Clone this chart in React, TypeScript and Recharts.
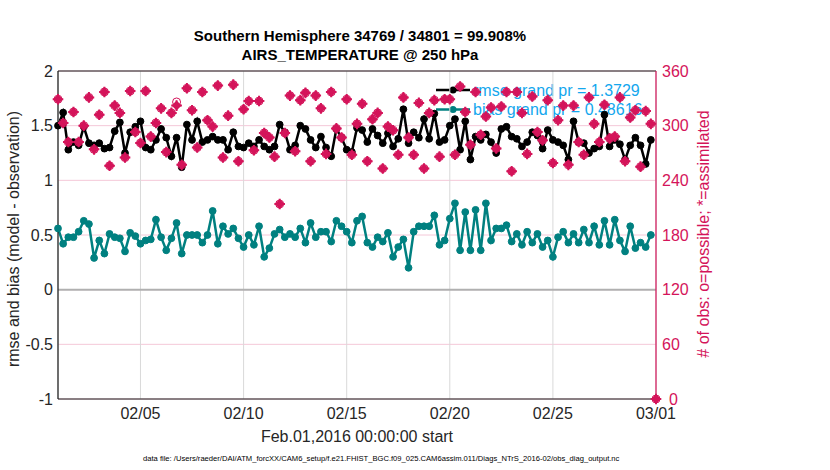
import React from 'react';
import { ComposedChart, Line, XAxis, YAxis, CartesianGrid, ReferenceLine } from 'recharts';

const W = 830;
const H = 470;
const FONT = '"Liberation Sans", Arial, Helvetica, sans-serif';
const CRIMSON = '#d4145a';
const TEAL = '#008080';
const LEGEND_BLUE = '#14a7ee';

// x axis: days since Feb.01,2016 00:00:00, one value every 6 hours
const STEP_DAYS = 0.25;
const dayTicks = [4, 9, 14, 19, 24, 29];
const dayTickLabels = ['02/05', '02/10', '02/15', '02/20', '02/25', '03/01'];
const leftTicks = [-1, -0.5, 0, 0.5, 1, 1.5, 2];
const rightTicks = [0, 60, 120, 180, 240, 300, 360];

const rmse = [
  1.50, 1.62, 1.28, 1.35, 1.32, 1.49, 1.34, 1.32, 1.34, 1.29,
  1.30, 1.45, 1.53, 1.25, 1.44, 1.49, 1.54, 1.30, 1.28, 1.37,
  1.47, 1.39, 1.22, 1.39, 1.12, 1.51, 1.37, 1.54, 1.35, 1.37,
  1.40, 1.37, 1.37, 1.28, 1.44, 1.31, 1.30, 1.34, 1.31, 1.37,
  1.31, 1.28, 1.31, 1.51, 1.44, 1.28, 1.32, 1.50, 1.47, 1.37,
  1.30, 1.40, 1.30, 1.22, 1.47, 1.39, 1.28, 1.26, 1.48, 1.46,
  1.35, 1.47, 1.41, 1.34, 1.43, 1.31, 1.38, 1.65, 1.34, 1.44,
  1.39, 1.56, 1.38, 1.61, 1.35, 1.37, 1.50, 1.56, 1.28, 1.54,
  1.19, 1.40, 1.37, 1.42, 1.35, 1.25, 1.47, 1.49, 1.40, 1.38,
  1.31, 1.35, 1.44, 1.41, 1.29, 1.46, 1.37, 1.35, 1.32, 1.19,
  1.54, 1.35, 1.34, 1.25, 1.29, 1.31, 1.60, 1.31, 1.37, 1.33,
  1.19, 1.32, 1.39, 1.32, 1.15, 1.37,
];

const bias = [
  0.56, 0.42, 0.48, 0.48, 0.53, 0.63, 0.60, 0.29, 0.45, 0.33,
  0.51, 0.48, 0.47, 0.35, 0.52, 0.49, 0.42, 0.45, 0.46, 0.64,
  0.48, 0.36, 0.47, 0.61, 0.33, 0.50, 0.50, 0.50, 0.43, 0.50,
  0.72, 0.42, 0.58, 0.51, 0.56, 0.47, 0.39, 0.50, 0.41, 0.58,
  0.30, 0.38, 0.51, 0.55, 0.48, 0.51, 0.48, 0.56, 0.43, 0.61,
  0.48, 0.53, 0.53, 0.44, 0.63, 0.58, 0.53, 0.43, 0.63, 0.67,
  0.43, 0.39, 0.48, 0.44, 0.52, 0.30, 0.39, 0.46, 0.20, 0.53,
  0.58, 0.58, 0.58, 0.68, 0.41, 0.45, 0.65, 0.79, 0.36, 0.71,
  0.36, 0.73, 0.36, 0.79, 0.45, 0.56, 0.56, 0.59, 0.44, 0.51,
  0.41, 0.53, 0.43, 0.51, 0.39, 0.45, 0.30, 0.48, 0.53, 0.43,
  0.51, 0.43, 0.55, 0.43, 0.58, 0.41, 0.63, 0.41, 0.64, 0.45,
  0.35, 0.58, 0.38, 0.43, 0.39, 0.50,
];

const nAssimilated = [
  329, 303, 282, 315, 282, 300, 331, 274, 312, 337,
  256, 322, 314, 265, 338, 293, 281, 338, 288, 303,
  319, 271, 314, 322, 257, 341, 317, 276, 337, 306,
  299, 344, 265, 311, 345, 261, 318, 327, 273, 327,
  292, 287, 266, 214, 292, 333, 272, 328, 336, 261,
  333, 319, 269, 337, 297, 287, 329, 268, 302, 324,
  261, 307, 314, 253, 299, 295, 268, 331, 287, 268,
  325, 253, 314, 328, 266, 329, 329, 268, 343, 315,
  279, 337, 290, 310, 320, 275, 321, 337, 250, 337,
  314, 269, 332, 293, 284, 328, 259, 306, 322, 257,
  322, 282, 268, 331, 302, 282, 323, 286, 288, 331,
  261, 309, 317, 255, 316, 302, 0,
];

const nPossible = [
  329, 303, 282, 315, 282, 300, 331, 274, 312, 337,
  256, 322, 314, 265, 338, 293, 281, 338, 288, 303,
  319, 271, 314, 326, 257, 341, 317, 276, 337, 306,
  299, 344, 265, 311, 345, 261, 318, 327, 273, 327,
  292, 287, 266, 214, 292, 333, 272, 328, 336, 261,
  333, 319, 269, 337, 297, 287, 329, 268, 302, 324,
  261, 307, 314, 253, 299, 295, 268, 331, 287, 268,
  325, 253, 314, 328, 266, 329, 329, 268, 343, 315,
  279, 337, 290, 310, 320, 275, 321, 337, 250, 337,
  314, 269, 332, 293, 284, 328, 259, 306, 322, 257,
  322, 282, 268, 331, 302, 282, 323, 286, 288, 331,
  261, 309, 317, 255, 316, 302, 0,
];

const titleLines = ['Southern Hemisphere 34769 / 34801 = 99.908%', 'AIRS_TEMPERATURE @ 250 hPa'];
const legendLabels = ['rmse grand pr = 1.3729', 'bias grand pr = 0.48616'];
const xLabel = 'Feb.01,2016 00:00:00 start';
const yLeftLabel = 'rmse and bias (model - observation)';
const yRightLabel = '# of obs: o=possible; *=assimilated';
const fileNote =
  'data file: /Users/raeder/DAI/ATM_forcXX/CAM6_setup/f.e21.FHIST_BGC.f09_025.CAM6assim.011/Diags_NTrS_2016-02/obs_diag_output.nc';

const data = nAssimilated.map((a, i) => ({
  t: i * STEP_DAYS,
  rmse: i < rmse.length ? rmse[i] : null,
  bias: i < bias.length ? bias[i] : null,
  assim: a,
  poss: nPossible[i],
}));

const renderStar = (props: any) => {
  const { cx, cy, index } = props;
  if (cx == null || cy == null) return <g key={`s${index}`} />;
  const r = 5;
  return (
    <g key={`s${index}`}>
      <path d={`M${cx},${cy - r} L${cx + r},${cy} L${cx},${cy + r} L${cx - r},${cy} Z`} fill={CRIMSON} />
      <path
        d={`M${cx - 5.3},${cy} L${cx + 5.3},${cy} M${cx},${cy - 5.3} L${cx},${cy + 5.3}`}
        stroke={CRIMSON}
        strokeWidth={2}
      />
    </g>
  );
};

const renderCircle = (props: any) => {
  const { cx, cy, index } = props;
  if (cx == null || cy == null) return <g key={`c${index}`} />;
  return <circle key={`c${index}`} cx={cx} cy={cy} r={4} fill="none" stroke={CRIMSON} strokeWidth={1} />;
};

const tickStyle = { fontSize: 16, fill: '#262626', fontFamily: FONT };

const RightTick = (props: any) => {
  const { x, y, payload } = props;
  const shift = payload.value === 0 ? 7 : 0;
  return (
    <text
      x={x + shift}
      y={y}
      dy="0.355em"
      textAnchor="start"
      fontSize={16}
      fill={CRIMSON}
      fontFamily={FONT}
    >
      {payload.value}
    </text>
  );
};

export default function App() {
  const cxPlot = 357;
  return (
    <div style={{ position: 'absolute', left: 0, top: 0, width: W, height: H, background: '#fff', fontFamily: FONT }}>
      <svg width={W} height={H} style={{ position: 'absolute', left: 0, top: 0 }}>
        <text x={360} y={40.5} textAnchor="middle" fontSize={15} fontWeight="bold" fill="#000" fontFamily={FONT}>
          {titleLines[0]}
        </text>
        <text x={360} y={59.5} textAnchor="middle" fontSize={15} fontWeight="bold" fill="#000" fontFamily={FONT}>
          {titleLines[1]}
        </text>
        <text
          transform="translate(19,239) rotate(-90)"
          textAnchor="middle"
          fontSize={16}
          fill="#262626"
          fontFamily={FONT}
        >
          {yLeftLabel}
        </text>
        <text
          transform="translate(709,234) rotate(-90)"
          textAnchor="middle"
          fontSize={16}
          fill={CRIMSON}
          fontFamily={FONT}
        >
          {yRightLabel}
        </text>
        <text x={cxPlot} y={442} textAnchor="middle" fontSize={16} fill="#262626" fontFamily={FONT}>
          {xLabel}
        </text>
        <text x={143} y={461} textAnchor="start" fontSize={7.6} fill="#000" fontFamily={FONT}>
          {fileNote}
        </text>
        {/* legend */}
        <line x1={436} y1={90} x2={470} y2={90} stroke="#000" strokeWidth={2.5} />
        <circle cx={453} cy={90} r={3.5} fill="#000" />
        <text x={473} y={95.5} fontSize={16} fill={LEGEND_BLUE} fontFamily={FONT}>
          {legendLabels[0]}
        </text>
        <line x1={436} y1={109.5} x2={470} y2={109.5} stroke={TEAL} strokeWidth={2.5} />
        <circle cx={453} cy={109.5} r={3.5} fill={TEAL} />
        <text x={473} y={115} fontSize={16} fill={LEGEND_BLUE} fontFamily={FONT}>
          {legendLabels[1]}
        </text>
      </svg>
      <div style={{ position: 'absolute', left: 0, top: 0 }}>
        <ComposedChart width={W} height={H} data={data} margin={{ top: 71, right: 114, bottom: 41, left: 0 }}>
          <CartesianGrid yAxisId="left" vertical={false} stroke="#f4c8d8" strokeWidth={1} />
          <CartesianGrid yAxisId="left" horizontal={false} stroke="#d9d9d9" strokeWidth={1} />
          <XAxis
            dataKey="t"
            type="number"
            domain={[0, 29]}
            ticks={dayTicks}
            tickFormatter={(v: number) => dayTickLabels[dayTicks.indexOf(v)] ?? ''}
            tick={tickStyle}
            tickLine={false}
            tickSize={0}
            tickMargin={9}
            height={30}
            axisLine={{ stroke: '#1a1a1a', strokeWidth: 1.2 }}
            allowDecimals
          />
          <YAxis
            yAxisId="left"
            domain={[-1, 2]}
            ticks={leftTicks}
            tick={tickStyle}
            tickLine={false}
            tickSize={0}
            tickMargin={5}
            width={58}
            axisLine={{ stroke: '#1a1a1a', strokeWidth: 1.2 }}
            interval={0}
          />
          <YAxis
            yAxisId="right"
            orientation="right"
            domain={[0, 360]}
            ticks={rightTicks}
            tick={<RightTick />}
            tickLine={false}
            tickSize={0}
            tickMargin={6}
            width={60}
            axisLine={{ stroke: CRIMSON, strokeWidth: 1.2 }}
            interval={0}
          />
          <ReferenceLine yAxisId="left" y={0} stroke="#b0b0b0" strokeWidth={2} />
          <ReferenceLine yAxisId="left" y={2} stroke="#1a1a1a" strokeWidth={1.2} />
          <Line
            yAxisId="left"
            dataKey="rmse"
            stroke="#000"
            strokeWidth={2.5}
            dot={{ r: 3.4, fill: '#000', stroke: '#000', strokeWidth: 1 }}
            isAnimationActive={false}
            connectNulls={false}
          />
          <Line
            yAxisId="left"
            dataKey="bias"
            stroke={TEAL}
            strokeWidth={2.5}
            dot={{ r: 3.4, fill: TEAL, stroke: TEAL, strokeWidth: 1 }}
            isAnimationActive={false}
            connectNulls={false}
          />
          <Line
            yAxisId="right"
            dataKey="poss"
            stroke="none"
            strokeWidth={0}
            dot={renderCircle}
            isAnimationActive={false}
          />
          <Line
            yAxisId="right"
            dataKey="assim"
            stroke="none"
            strokeWidth={0}
            dot={renderStar}
            isAnimationActive={false}
          />
        </ComposedChart>
      </div>
    </div>
  );
}
